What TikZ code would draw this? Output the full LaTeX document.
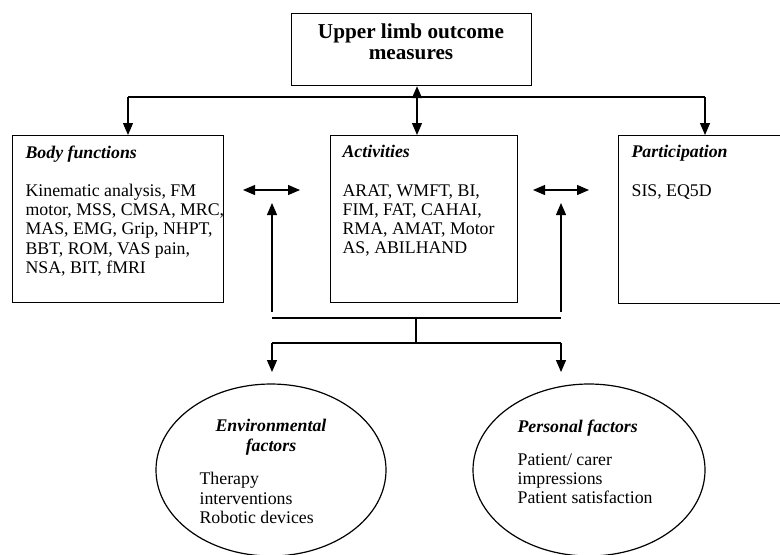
\documentclass[tikz,border=0pt]{standalone}
\usepackage{fontspec}
\setmainfont{Liberation Serif}
\usetikzlibrary{arrows.meta,shapes.geometric}
\begin{document}
\begin{tikzpicture}[x=0.5pt,y=-0.5pt,line width=0.6pt,
    box/.style={draw,anchor=north west,inner sep=0pt},
    txt/.style={anchor=north west,align=left,inner sep=0pt,
      font=\fontsize{8.9}{9.6}\selectfont},
    oval/.style={draw,ellipse,inner sep=0pt,minimum width=115pt,minimum height=86pt},
    tip/.style={-{Triangle[width=5pt,length=6pt]}},
    twotip/.style={{Triangle[width=5pt,length=6pt]}-{Triangle[width=5pt,length=6pt]}}]
    \useasboundingbox (0,0) rectangle (780,554);
    \clip (0,0) rectangle (780,554);

    % Top box
    \node[box,minimum width=120pt,minimum height=36pt] (top) at (291,13) {};
    \node[anchor=north,align=center,inner sep=0pt,
      font=\bfseries\fontsize{10.6}{10.8}\selectfont] (toptxt) at (411,23)
      {Upper limb outcome\\measures};

    % Three ICF boxes
    \node[box,minimum width=105.5pt,minimum height=83.5pt] (body) at (12,135) {};
    \node[box,minimum width=93.5pt,minimum height=83.5pt] (act) at (330,135) {};
    \node[box,minimum width=90pt,minimum height=84pt] (part) at (618,135) {};

    \node[txt] (bodytxt) at (25,145) {\textbf{\textit{Body functions}}\\[9.6pt]
      Kinematic analysis, FM\\motor, MSS, CMSA, MRC,\\MAS, EMG, Grip, NHPT,\\
      BBT, ROM, VAS pain,\\NSA, BIT, fMRI};
    \node[txt] (acttxt) at (342,145) {\textbf{\textit{Activities}}\\[9.6pt]
      ARAT, WMFT, BI,\\FIM, FAT, CAHAI,\\RMA, AMAT, Motor\\AS, ABILHAND};
    \node[txt] (parttxt) at (631,145) {\textbf{\textit{Participation}}\\[9.6pt]
      SIS, EQ5D};

    % Contextual factors
    \node[oval] (env) at (271,470) {};
    \node[oval,minimum width=116pt] (pers) at (589,470) {};
    \node[txt,anchor=north,align=center] (envhead) at (271,419)
      {\textbf{\textit{Environmental}}\\\textbf{\textit{factors}}};
    \node[txt] (envtxt) at (199,472) {Therapy\\interventions\\Robotic devices};
    \node[txt] (pershead) at (517,419) {\textbf{\textit{Personal factors}}};
    \node[txt] (perstxt) at (517,453) {Patient/ carer\\impressions\\Patient satisfaction};

    % Arrows from the top box
    \coordinate (bl) at (128,97);
    \coordinate (pr) at (705,97);
    \coordinate (mid) at (417,97);
    \draw (bl) -- (pr);
    \draw[tip] (bl) -- (bl |- body.north);
    \draw[tip] (pr) -- (pr |- part.north);
    \draw[twotip] (mid |- top.south) -- (mid |- act.north);

    % Arrows between the boxes
    \coordinate (ba1) at (243,190);
    \coordinate (ba2) at (300,190);
    \coordinate (ap1) at (533,190);
    \coordinate (ap2) at (589,190);
    \draw[twotip] (ba1) -- (ba2);
    \draw[twotip] (ap1) -- (ap2);

    % Links to the contextual factors
    \coordinate (upl) at (272,312);
    \coordinate (upr) at (561,312);
    \coordinate (jl) at (272,318);
    \coordinate (jr) at (561,318);
    \coordinate (jm) at (416,318);
    \coordinate (dm) at (416,343);
    \coordinate (dl) at (272,343);
    \coordinate (dr) at (561,343);
    \draw[tip] (upl) -- ++(0,-109);
    \draw[tip] (upr) -- ++(0,-109);
    \draw (jl) -- (jr);
    \draw (jm) -- (dm);
    \draw (dl) -- (dr);
    \draw[tip] (dl) -- ++(0,29);
    \draw[tip] (dr) -- ++(0,29);
\end{tikzpicture}
\end{document}
